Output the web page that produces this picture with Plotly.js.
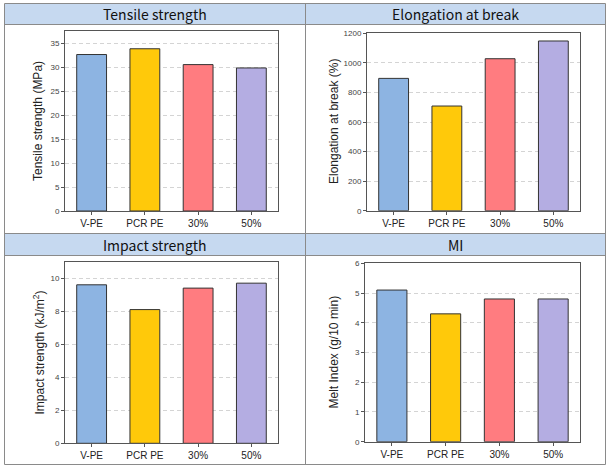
<!DOCTYPE html>
<html>
<head>
<meta charset="utf-8">
<script src="https://cdn.plot.ly/plotly-3.0.1.min.js"></script>
<style>html,body{margin:0;padding:0;background:#fff;}#chart{width:615px;height:474px;}</style>
</head>
<body>
<div id="chart"></div>
<script>
// ---- data ----
const categories = ["V-PE", "PCR PE", "30%", "50%"];
const tensileStrength = [32.6, 33.8, 30.5, 29.8];      // MPa
const elongationAtBreak = [895, 708, 1028, 1148];      // %
const impactStrength = [9.6, 8.1, 9.4, 9.7];           // kJ/m2
const meltIndex = [5.1, 4.3, 4.8, 4.8];                // g/10 min
const panelTitles = ["Tensile strength", "Elongation at break", "Impact strength", "MI"];
const yTitles = ["Tensile strength (MPa)", "Elongation at break (%)", "Impact strength (kJ/m<sup>2</sup>)", "Melt Index (g/10 min)"];
const barColors = ["#8db4e2", "#ffc90a", "#ff7c80", "#b4ade2"];

// ---- layout helpers (pixel -> paper) ----
const W = 615, H = 474;
const px = v => v / W;
const py = v => 1 - v / H;

const panels = [
  {vals: tensileStrength, x: [65, 278], y: [31, 211], range: [0, 37.5], dtick: 5, head: [4, 24], titleX: 38},
  {vals: elongationAtBreak, x: [367, 580], y: [33.3, 210.7], range: [0, 1200], dtick: 200, head: [4, 24], titleX: 334},
  {vals: impactStrength, x: [65, 278], y: [261.7, 443.3], range: [0, 11], dtick: 2, head: [234, 255], titleX: 38},
  {vals: meltIndex, x: [365, 580], y: [263.3, 441.7], range: [0, 6], dtick: 1, head: [234, 255], titleX: 333}
];
const headX = [[4.5, 305.5], [305.5, 605.5], [4.5, 305.5], [305.5, 605.5]];

const data = [];
const layout = {
  width: W, height: H,
  margin: {l: 0, r: 0, t: 0, b: 0},
  paper_bgcolor: "#fff", plot_bgcolor: "#fff",
  showlegend: false,
  bargap: 0.44,
  font: {family: "Liberation Sans, Arial, sans-serif", color: "#333"},
  shapes: [], annotations: []
};

panels.forEach((p, i) => {
  const n = i === 0 ? "" : String(i + 1);
  data.push({
    type: "bar", x: categories, y: p.vals,
    xaxis: "x" + n, yaxis: "y" + n,
    marker: {color: barColors, line: {color: "#333", width: 1}},
    hoverinfo: "x+y"
  });
  layout["xaxis" + n] = {
    type: "category",
    domain: [px(p.x[0]), px(p.x[1])], anchor: "y" + n,
    showline: true, mirror: true, linecolor: "#555", linewidth: 1,
    ticks: "outside", ticklen: 3, tickcolor: "#555",
    tickfont: {size: 10, color: "#222", family: "Liberation Sans, Arial, sans-serif"},
    showgrid: false, fixedrange: true
  };
  layout["yaxis" + n] = {
    domain: [py(p.y[1]), py(p.y[0])], anchor: "x" + n,
    range: p.range, dtick: p.dtick,
    showline: true, mirror: true, linecolor: "#555", linewidth: 1,
    ticks: "outside", ticklen: 3, tickcolor: "#555",
    tickfont: {size: 8, color: "#444"},
    showgrid: true, gridcolor: "#d4d4d4", griddash: "4px,3px", gridwidth: 1,
    zeroline: false, fixedrange: true
  };
  // header band
  layout.shapes.push({type: "rect", xref: "paper", yref: "paper",
    x0: px(headX[i][0]), x1: px(headX[i][1]), y0: py(p.head[1]), y1: py(p.head[0]),
    fillcolor: "#c6d9f0", line: {width: 0}, layer: "below"});
  layout.annotations.push({xref: "paper", yref: "paper",
    x: px((headX[i][0] + headX[i][1]) / 2), y: py((p.head[0] + p.head[1]) / 2),
    text: panelTitles[i], showarrow: false, xanchor: "center", yanchor: "middle",
    font: {size: 14, color: "#111", family: "Noto Sans CJK KR, Noto Sans, sans-serif"}});
  // y-axis title
  layout.annotations.push({xref: "paper", yref: "paper",
    x: px(p.titleX), y: py((p.y[0] + p.y[1]) / 2),
    text: yTitles[i], showarrow: false, textangle: -90, xanchor: "center", yanchor: "middle",
    font: {size: 12, color: "#222"}});
});

// table lines
const line = (x0, y0, x1, y1) => ({type: "line", xref: "paper", yref: "paper",
  x0: px(x0), y0: py(y0), x1: px(x1), y1: py(y1), line: {color: "#8a8a8a", width: 1}});
layout.shapes.push(
  {type: "rect", xref: "paper", yref: "paper", x0: px(4.5), x1: px(605.5), y0: py(464.5), y1: py(3.5),
   line: {color: "#8a8a8a", width: 1}},
  line(305.5, 3.5, 305.5, 464.5),
  line(4.5, 24.5, 605.5, 24.5),
  line(4.5, 233.5, 605.5, 233.5),
  line(4.5, 255.5, 605.5, 255.5)
);

Plotly.newPlot("chart", data, layout, {displayModeBar: false, staticPlot: true});
</script>
</body>
</html>
